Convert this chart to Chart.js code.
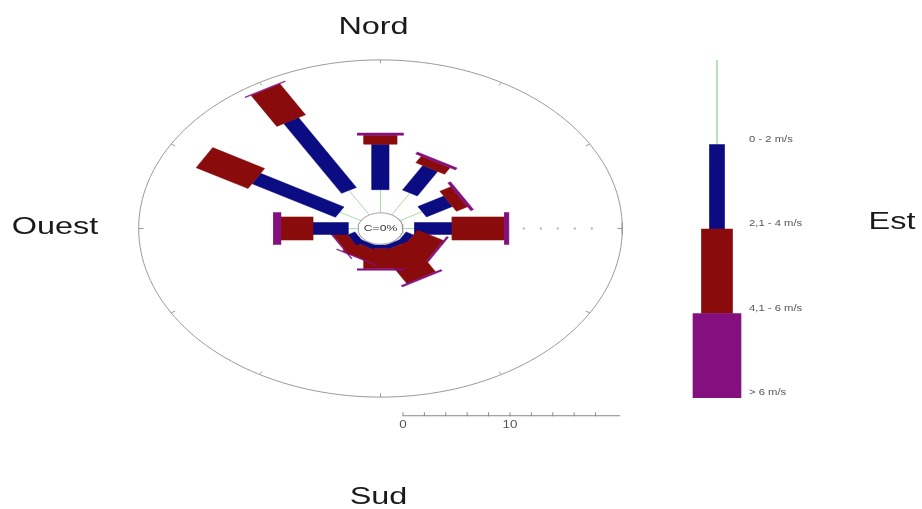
<!DOCTYPE html>
<html>
<head>
<meta charset="utf-8">
<script src="https://cdn.jsdelivr.net/npm/chart.js@4.4.1/dist/chart.umd.min.js"></script>
<style>
  html, body { margin: 0; padding: 0; background: #ffffff; }
  #wrap { position: relative; width: 922px; height: 509px; overflow: hidden; }
  #rose { position: absolute; left: 0; top: 0; }
  #key  { position: absolute; left: 617px; top: 0; }
</style>
</head>
<body>
<div id="wrap">
  <canvas id="rose" width="922" height="509"></canvas>
  <canvas id="key" width="200" height="509"></canvas>
</div>
<script>
// Wind directions (degrees, clockwise from north)
const directions = [0, 30, 60, 90, 120, 150, 180, 210, 240, 270, 300, 330];

// Frequency (%) per direction for each speed class
const freq0to2  = [3.1, 3.4, 2.4, 1.1, 0.2, 0.1, 0.1, 0.1, 0.2, 0.9, 2.3, 3.8];
const freq2to4  = [6.1, 3.8, 2.8, 3.5, 0.8, 0.6, 0.5, 0.6, 0.8, 3.3, 9.0, 10.8];
const freq4to6  = [1.2, 1.0, 1.2, 4.9, 2.8, 4.8, 2.7, 1.6, 1.2, 3.0, 5.6, 4.8];
const freqOver6 = [0.3, 0.3, 0.3, 0.4, 0.2, 0.2, 0.2, 0.1, 0.1, 0.7, 0.0, 0.1];

const speedClasses = ['0 - 2 m/s', '2,1 - 4 m/s', '4,1 - 6 m/s', '> 6 m/s'];
const calmLabel = 'C=0%';
const scaleTicks = [0, 2, 4, 6, 8, 10, 12, 14, 16, 18];
const scaleLabelled = [0, 10];
const compass = { north: 'Nord', east: 'Est', south: 'Sud', west: 'Ouest' };

// Geometry of the rose (axis units)
const CALM_R = 2.1;      // radius of the calm circle, bars start here
const OUTER_R = 22.6;    // outer reference circle
const SCALE_Y = -25.1;   // vertical position of the scale bar
const BAR_WIDTH = [0, 1.6, 3.1, 4.3];

const COLORS = {
  green: '#a9dca9',
  blue: '#0b0b82',
  red: '#8a0b0b',
  purple: '#84107f',
  grey: '#9a9a9a',
  text: '#3a3a3a'
};
const TEXT_SX = 1.35;  // horizontal stretch of all lettering

function polar(r, deg) {
  const a = deg * Math.PI / 180;
  return { x: r * Math.sin(a), y: r * Math.cos(a) };
}

// Closed rectangle along a direction, from radius r1 to r2, of width w
function barShape(deg, r1, r2, w) {
  const a = deg * Math.PI / 180;
  const ux = Math.sin(a), uy = Math.cos(a);
  const px = Math.cos(a) * w / 2, py = -Math.sin(a) * w / 2;
  const p = [
    { x: ux * r1 + px, y: uy * r1 + py },
    { x: ux * r2 + px, y: uy * r2 + py },
    { x: ux * r2 - px, y: uy * r2 - py },
    { x: ux * r1 - px, y: uy * r1 - py }
  ];
  p.push({ ...p[0] });
  return p;
}

function circlePoints(r) {
  const pts = [];
  for (let d = 0; d <= 360; d += 2) pts.push(polar(r, d));
  return pts;
}

const datasets = [];
let order = 1000;
function add(ds) { datasets.push(Object.assign({
  showLine: true, pointRadius: 0, pointHoverRadius: 0, tension: 0, fill: false, order: order--
}, ds)); }

// outer circle and its 30° ticks
add({ data: circlePoints(OUTER_R), borderColor: COLORS.grey, borderWidth: 1 });
directions.forEach(d => {
  add({ data: [polar(OUTER_R - 0.45, d), polar(OUTER_R, d)], borderColor: COLORS.grey, borderWidth: 1 });
});
// dotted east reference line
add({ data: [polar(13.3, 90), polar(20.8, 90)], borderColor: '#b0b0b0', borderWidth: 2, borderDash: [2, 15] });

// stacked speed classes per direction
const classes = [freq0to2, freq2to4, freq4to6, freqOver6];
const classColors = [COLORS.green, COLORS.blue, COLORS.red, COLORS.purple];
directions.forEach((d, i) => {
  let r = CALM_R;
  classes.forEach((arr, k) => {
    const r1 = r, r2 = r + arr[i];
    r = r2;
    if (arr[i] <= 0) return;
    if (k === 0) {
      add({ data: [polar(r1, d), polar(r2, d)], borderColor: classColors[0], borderWidth: 1 });
    } else {
      add({
        data: barShape(d, r1, r2, BAR_WIDTH[k]),
        borderColor: classColors[k], borderWidth: 0.5,
        backgroundColor: classColors[k], fill: 'shape'
      });
    }
  });
});

// calm circle
add({ data: circlePoints(CALM_R), borderColor: COLORS.grey, borderWidth: 1,
      backgroundColor: '#ffffff', fill: 'shape' });

// scale bar
add({ data: [{ x: CALM_R, y: SCALE_Y }, { x: CALM_R + 20.3, y: SCALE_Y }], borderColor: '#8a8a8a', borderWidth: 1 });
add({ data: scaleTicks.map(t => ({ x: CALM_R + t, y: SCALE_Y + 0.2 })), showLine: false,
      pointStyle: 'line', rotation: 90, pointRadius: 2, borderColor: '#8a8a8a', borderWidth: 1 });

function stretchedText(ctx, text, x, y, size, color, align, sx) {
  ctx.save();
  ctx.font = size + 'px "Liberation Sans", Arial, sans-serif';
  ctx.fillStyle = color;
  ctx.textBaseline = 'middle';
  ctx.textAlign = align || 'center';
  ctx.translate(x, y);
  ctx.scale(sx || TEXT_SX, 1);
  ctx.fillText(text, 0, 0);
  ctx.restore();
}

const roseText = {
  id: 'roseText',
  afterDatasetsDraw(chart) {
    const { ctx, scales: { x, y } } = chart;
    const cx = x.getPixelForValue(0), cy = y.getPixelForValue(0);
    stretchedText(ctx, calmLabel, cx, cy, 9, COLORS.text);
    scaleLabelled.forEach(t => {
      stretchedText(ctx, String(t), x.getPixelForValue(CALM_R + t), y.getPixelForValue(SCALE_Y) + 10, 10, '#555');
    });
    stretchedText(ctx, compass.north, cx - 7, 27, 24, '#1a1a1a');
    stretchedText(ctx, compass.south, cx - 2, 497, 24, '#1a1a1a');
    stretchedText(ctx, compass.west, 55, 227, 24, '#1a1a1a');
    stretchedText(ctx, compass.east, 892, 222, 24, '#1a1a1a');
  }
};

new Chart(document.getElementById('rose'), {
  type: 'scatter',
  data: { datasets },
  options: {
    responsive: false,
    animation: false,
    devicePixelRatio: 1,
    layout: { padding: { left: 123.7, right: 284.7, top: 49.46, bottom: 79.08 } },
    scales: {
      x: { type: 'linear', min: -24, max: 24, display: false },
      y: { type: 'linear', min: -27, max: 24, display: false }
    },
    plugins: { legend: { display: false }, tooltip: { enabled: false } }
  },
  plugins: [roseText]
});

// Speed class key: one stacked column, each class with its own thickness
const keyThickness = [1, 15, 31, 48];
const keyLabels = {
  id: 'keyLabels',
  afterDatasetsDraw(chart) {
    const { ctx, scales: { y }, chartArea } = chart;
    const lx = (chartArea.left + chartArea.right) / 2 + 32;
    speedClasses.forEach((label, k) => {
      const bottom = 3 - k;
      stretchedText(ctx, label, lx, y.getPixelForValue(bottom) - 5, 9, '#555', 'left', 1.25);
    });
  }
};
new Chart(document.getElementById('key'), {
  type: 'bar',
  data: {
    labels: [''],
    datasets: [3, 2, 1, 0].map(k => ({
      label: speedClasses[k],
      data: [1],
      backgroundColor: classColors[k],
      barThickness: keyThickness[k],
      borderWidth: 0,
      stack: 'key'
    }))
  },
  options: {
    responsive: false,
    animation: false,
    devicePixelRatio: 1,
    layout: { padding: { top: 60, bottom: 111, left: 0, right: 0 } },
    scales: {
      x: { stacked: true, display: false },
      y: { stacked: true, display: false, min: 0, max: 4 }
    },
    plugins: { legend: { display: false }, tooltip: { enabled: false } }
  },
  plugins: [keyLabels]
});
</script>
</body>
</html>
